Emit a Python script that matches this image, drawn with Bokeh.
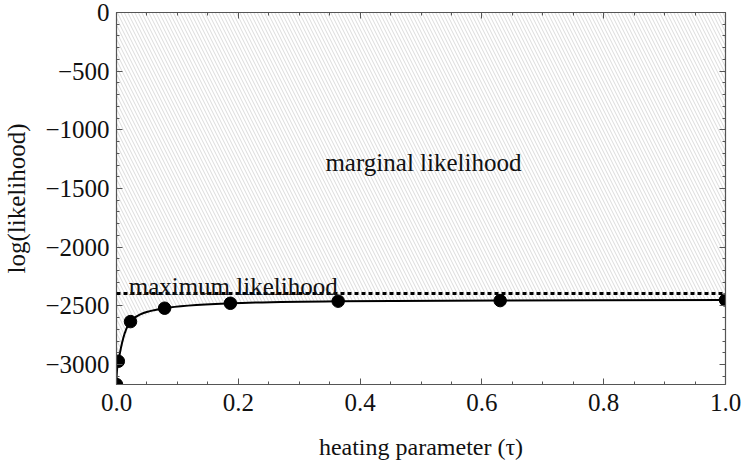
from bokeh.plotting import figure
from bokeh.models import Range1d, FixedTicker, LinearAxis, Span, Label
from bokeh.embed import file_html
from bokeh.resources import INLINE

# ---- data ----
tau = [0.0, 0.003, 0.023, 0.079, 0.187, 0.364, 0.630, 1.0]
loglik = [-3170, -2972, -2634, -2520, -2478, -2460, -2455, -2450]
max_lik = -2395

y_ticks = [0, -500, -1000, -1500, -2000, -2500, -3000]
y_tick_labels = ["0", "\u2212500", "\u22121000", "\u22121500", "\u22122000", "\u22122500", "\u22123000"]
x_ticks = [0.0, 0.2, 0.4, 0.6, 0.8, 1.0]
x_tick_labels = ["0.0", "0.2", "0.4", "0.6", "0.8", "1.0"]

FONT = "Liberation Serif"
FRAME = "#555555"
TXT = "#111111"

p = figure(width=741, height=462, output_backend="svg", toolbar_location=None,
           x_range=Range1d(0, 1), y_range=Range1d(-3170, 0),
           min_border_left=116, min_border_right=16, min_border_top=12, min_border_bottom=77)
p.grid.visible = False
p.outline_line_color = None
p.background_fill_color = "white"
p.border_fill_color = "white"

# hatched "marginal likelihood" region between curve and 0
p.varea(x=tau, y1=loglik, y2=[0] * len(tau), fill_color=None,
        hatch_pattern="\\", hatch_color="#c2c2c2", hatch_scale=7, hatch_weight=0.6)

# maximum likelihood dashed line
p.add_layout(Span(location=max_lik, dimension="width", line_color="black",
                  line_width=3, line_dash="4 3"))

# smooth curve through the points (Catmull-Rom as cubic Bezier segments)
n = len(tau)
x0, y0, x1, y1, cx0, cy0, cx1, cy1 = [], [], [], [], [], [], [], []
for i in range(n - 1):
    a = max(i - 1, 0)
    d = min(i + 2, n - 1)
    x0.append(tau[i]); y0.append(loglik[i])
    x1.append(tau[i + 1]); y1.append(loglik[i + 1])
    cx0.append(tau[i] + (tau[i + 1] - tau[a]) / 6)
    cy0.append(loglik[i] + (loglik[i + 1] - loglik[a]) / 6)
    cx1.append(tau[i + 1] - (tau[d] - tau[i]) / 6)
    cy1.append(loglik[i + 1] - (loglik[d] - loglik[i]) / 6)
p.bezier(x0=x0, y0=y0, x1=x1, y1=y1, cx0=cx0, cy0=cy0, cx1=cx1, cy1=cy1,
         line_color="black", line_width=2)

p.scatter(tau, loglik, size=12.5, color="black")

# annotations
p.add_layout(Label(x=0.504, y=-1282, text="marginal likelihood", text_align="center",
                   text_baseline="alphabetic", text_font=FONT, text_font_size="25px",
                   text_color=TXT))
p.add_layout(Label(x=0.020, y=-2338, text="maximum likelihood", text_align="left",
                   text_baseline="alphabetic", text_font=FONT, text_font_size="25px",
                   text_color=TXT))

# axes
y_minor = list(range(-3100, 1, 100))
x_minor = [i * 0.05 for i in range(21)]

def style(ax, labels=True):
    ax.axis_line_color = FRAME
    ax.axis_line_width = 1.2
    ax.major_tick_line_color = FRAME
    ax.minor_tick_line_color = FRAME
    ax.major_tick_in = 6
    ax.major_tick_out = 0
    ax.minor_tick_in = 3
    ax.minor_tick_out = 0
    if labels:
        ax.major_label_text_font = FONT
        ax.major_label_text_font_size = "25px"
        ax.major_label_text_color = TXT
        ax.axis_label_text_font = FONT
        ax.axis_label_text_font_size = "25px"
        ax.axis_label_text_font_style = "normal"
        ax.axis_label_text_color = TXT
    else:
        ax.major_label_text_font_size = "1px"
        ax.major_label_standoff = 0

p.yaxis.ticker = FixedTicker(ticks=y_ticks, minor_ticks=y_minor)
p.yaxis.major_label_overrides = dict(zip(y_ticks, y_tick_labels))
p.yaxis.axis_label = "log(likelihood)"
style(p.yaxis[0])
p.yaxis.major_label_standoff = 7
p.yaxis.axis_label_standoff = 12

p.xaxis.ticker = FixedTicker(ticks=x_ticks, minor_ticks=x_minor)
p.xaxis.major_label_overrides = dict(zip(x_ticks, x_tick_labels))
p.xaxis.axis_label = "heating parameter (\u03c4)"
style(p.xaxis[0])
p.xaxis.axis_label_text_font_size = "24px"
p.xaxis.major_label_standoff = 9
p.xaxis.axis_label_standoff = 20

# mirrored frame ticks on top and right (no labels)
top = LinearAxis(ticker=FixedTicker(ticks=x_ticks, minor_ticks=x_minor))
style(top, labels=False)
top.major_label_overrides = {t: "" for t in x_ticks}
p.add_layout(top, "above")
right = LinearAxis(ticker=FixedTicker(ticks=y_ticks, minor_ticks=y_minor))
style(right, labels=False)
right.major_label_overrides = {t: "" for t in y_ticks}
p.add_layout(right, "right")

open("out.html", "w").write(file_html(p, INLINE))
